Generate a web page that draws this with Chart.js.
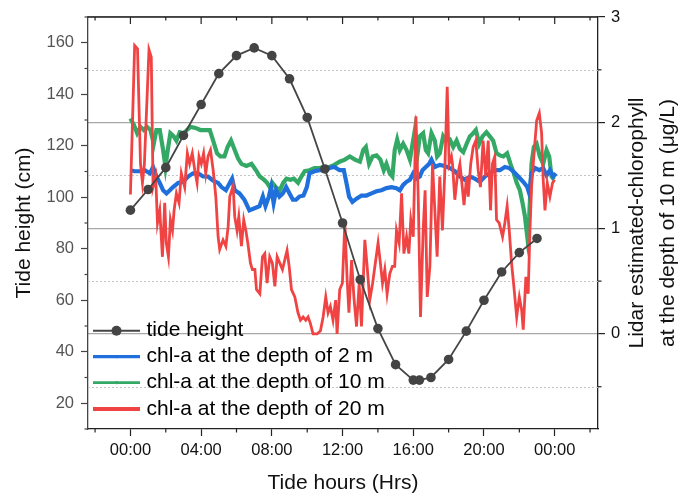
<!DOCTYPE html>
<html>
<head>
<meta charset="utf-8">
<title>Tide height and chl-a</title>
<script src="https://cdn.jsdelivr.net/npm/chart.js@4.4.1/dist/chart.umd.min.js"></script>
<style>
  html, body { margin: 0; padding: 0; background: #fff; }
  #wrap { width: 681px; height: 494px; }
</style>
</head>
<body>
<div id="wrap"><canvas id="tideChart" width="681" height="494"></canvas></div>
<script>
// --- Data (hours from 00:00, heights in cm, chl-a in ug/L) ---
const tideHours = [0, 1, 2, 3, 4, 5, 6, 7, 8, 9, 10, 11, 12, 13, 14, 15, 16, 16.35, 17, 18, 19, 20, 21, 22, 23];
const tideHeight = [95, 103, 111.5, 124, 136, 148, 155, 158, 155, 146, 131, 111, 90, 68, 49, 35, 29, 29, 30, 37, 48, 60, 71, 78.5, 84];

const chl2Hours = [
  0, 0.24, 0.53, 0.81, 1.10, 1.28, 1.47, 1.66, 1.85, 2.04,
  2.23, 2.41, 2.70, 2.98, 3.26, 3.54, 3.83, 4.11, 4.39, 4.68,
  4.96, 5.15, 5.40, 5.62, 5.75, 5.90, 6.17, 6.45, 6.73, 7.02,
  7.30, 7.49, 7.64, 7.83, 7.96, 8.10, 8.24, 8.43, 8.62, 8.81,
  9.00, 9.19, 9.37, 9.56, 9.79, 9.98, 10.13, 10.41, 10.70, 10.98,
  11.26, 11.54, 11.83, 12.07, 12.22, 12.37, 12.56, 12.79, 13.07, 13.35,
  13.64, 13.92, 14.20, 14.48, 14.77, 15.05, 15.24, 15.43, 15.62, 15.81,
  16.00, 16.18, 16.37, 16.52, 16.71, 16.90, 17.03, 17.22, 17.50, 17.78,
  18.07, 18.35, 18.64, 18.92, 19.20, 19.48, 19.77, 20.05, 20.33, 20.62,
  20.90, 21.18, 21.43, 21.65, 21.94, 22.22, 22.45, 22.56, 22.69, 22.88,
  23.13, 23.35, 23.54, 23.73, 23.92, 24.07
];
const chl2Values = [
  1.55, 1.54, 1.54, 1.55, 1.52, 1.58, 1.49, 1.43, 1.36, 1.33,
  1.36, 1.39, 1.43, 1.44, 1.49, 1.52, 1.52, 1.49, 1.49, 1.45,
  1.43, 1.39, 1.36, 1.43, 1.47, 1.36, 1.33, 1.27, 1.17, 1.19,
  1.21, 1.30, 1.21, 1.30, 1.39, 1.24, 1.36, 1.30, 1.33, 1.39,
  1.33, 1.27, 1.27, 1.30, 1.31, 1.39, 1.52, 1.54, 1.55, 1.55,
  1.57, 1.58, 1.55, 1.55, 1.43, 1.30, 1.25, 1.28, 1.31, 1.31,
  1.33, 1.35, 1.36, 1.38, 1.39, 1.38, 1.36, 1.41, 1.44, 1.46,
  1.52, 1.47, 1.49, 1.55, 1.58, 1.61, 1.65, 1.58, 1.60, 1.59,
  1.57, 1.54, 1.49, 1.46, 1.49, 1.47, 1.44, 1.49, 1.52, 1.55,
  1.55, 1.58, 1.57, 1.54, 1.49, 1.44, 1.39, 1.33, 1.52, 1.57,
  1.55, 1.57, 1.50, 1.55, 1.49, 1.52
];

const chl10Hours = [
  0, 0.19, 0.38, 0.57, 0.75, 0.94, 1.13, 1.32, 1.47, 1.66,
  1.85, 1.98, 2.11, 2.26, 2.45, 2.60, 2.79, 3.01, 3.20, 3.39,
  3.68, 3.96, 4.24, 4.49, 4.68, 4.90, 5.09, 5.32, 5.50, 5.69,
  5.90, 6.09, 6.28, 6.56, 6.85, 7.10, 7.32, 7.55, 7.73, 7.88,
  8.03, 8.22, 8.45, 8.64, 8.83, 9.05, 9.24, 9.48, 9.67, 9.86,
  10.13, 10.41, 10.70, 10.98, 11.26, 11.54, 11.83, 12.13, 12.41, 12.70,
  12.98, 13.17, 13.32, 13.50, 13.70, 13.92, 14.14, 14.33, 14.48, 14.67,
  14.82, 14.95, 15.09, 15.24, 15.43, 15.62, 15.81, 15.96, 16.09, 16.22,
  16.37, 16.56, 16.71, 16.84, 17.03, 17.22, 17.35, 17.50, 17.69, 17.84,
  18.07, 18.26, 18.45, 18.64, 18.83, 19.02, 19.20, 19.39, 19.54, 19.73,
  19.92, 20.14, 20.33, 20.52, 20.71, 20.90, 21.09, 21.31, 21.50, 21.69,
  21.85, 22.03, 22.18, 22.32, 22.45, 22.56, 22.69, 22.82, 22.98, 23.16,
  23.35, 23.54, 23.69, 23.82, 23.96
];
const chl10Values = [
  2.04, 1.98, 1.90, 1.96, 1.93, 1.96, 1.93, 1.80, 1.93, 1.93,
  1.74, 1.58, 1.74, 1.90, 1.87, 1.83, 1.91, 1.90, 1.93, 1.96,
  1.95, 1.93, 1.93, 1.93, 1.83, 1.71, 1.68, 1.68, 1.77, 1.83,
  1.74, 1.66, 1.61, 1.59, 1.61, 1.55, 1.49, 1.46, 1.43, 1.39,
  1.43, 1.39, 1.36, 1.43, 1.47, 1.46, 1.47, 1.43, 1.49, 1.54,
  1.55, 1.57, 1.57, 1.58, 1.58, 1.60, 1.63, 1.65, 1.68, 1.65,
  1.63, 1.74, 1.77, 1.61, 1.68, 1.69, 1.65, 1.55, 1.61, 1.52,
  1.49, 1.74, 1.84, 1.74, 1.80, 1.74, 1.65, 1.80, 1.93, 1.68,
  1.87, 1.90, 1.74, 1.71, 1.90, 1.83, 1.68, 1.71, 1.87, 1.83,
  1.84, 1.77, 1.83, 1.75, 1.72, 1.80, 1.87, 1.90, 1.93, 1.80,
  1.87, 1.91, 1.87, 1.83, 1.71, 1.69, 1.68, 1.71, 1.61, 1.52,
  1.43, 1.36, 1.24, 1.11, 0.92, 1.11, 1.61, 1.77, 1.80, 1.68,
  1.61, 1.74, 1.68, 1.49, 1.46
];

const chl20Hours = [
  0.00, 0.24, 0.40, 0.57, 0.68, 0.79, 1.05, 1.18, 1.28, 1.43,
  1.53, 1.66, 1.81, 1.94, 2.03, 2.15, 2.26, 2.38, 2.47, 2.60,
  2.75, 2.88, 3.07, 3.22, 3.35, 3.50, 3.64, 3.77, 3.88, 4.01,
  4.14, 4.26, 4.39, 4.53, 4.68, 4.83, 4.96, 5.05, 5.24, 5.40,
  5.53, 5.62, 5.81, 5.90, 6.03, 6.13, 6.28, 6.41, 6.53, 6.64,
  6.79, 6.90, 7.04, 7.13, 7.32, 7.47, 7.60, 7.73, 7.88, 8.03,
  8.17, 8.30, 8.45, 8.60, 8.73, 8.86, 8.98, 9.11, 9.30, 9.48,
  9.62, 9.77, 9.92, 10.05, 10.18, 10.33, 10.56, 10.75, 10.90, 11.05,
  11.18, 11.31, 11.46, 11.61, 11.69, 11.84, 11.99, 12.13, 12.26, 12.36,
  12.51, 12.64, 12.79, 12.94, 13.07, 13.26, 13.39, 13.54, 13.70, 13.83,
  14.01, 14.14, 14.26, 14.39, 14.52, 14.67, 14.82, 14.95, 15.05, 15.20,
  15.34, 15.47, 15.62, 15.75, 15.86, 16.00, 16.15, 16.28, 16.41, 16.56,
  16.67, 16.79, 16.94, 17.09, 17.22, 17.35, 17.50, 17.65, 17.78, 17.92,
  18.03, 18.16, 18.22, 18.35, 18.49, 18.64, 18.79, 18.87, 19.02, 19.11,
  19.25, 19.39, 19.54, 19.67, 19.80, 19.95, 20.10, 20.24, 20.37, 20.48,
  20.61, 20.71, 20.86, 21.05, 21.18, 21.31, 21.43, 21.56, 21.69, 21.85,
  22.00, 22.13, 22.22, 22.37, 22.50, 22.60, 22.69, 22.82, 22.98, 23.13,
  23.26, 23.35, 23.45, 23.58, 23.73, 23.88, 24.00
];
const chl20Values = [
  1.32, 2.73, 2.70, 1.61, 1.43, 1.61, 2.69, 2.62, 1.39, 1.49,
  1.05, 1.17, 0.73, 1.24, 0.86, 0.73, 1.08, 0.98, 1.17, 1.33,
  1.24, 1.52, 1.39, 1.71, 1.61, 1.71, 1.55, 1.43, 1.68, 1.61,
  1.71, 1.52, 1.68, 1.74, 1.55, 1.30, 0.92, 0.80, 0.89, 0.83,
  1.02, 1.30, 1.40, 1.11, 0.98, 1.11, 0.83, 1.08, 0.98, 0.86,
  0.67, 0.61, 0.61, 0.42, 0.38, 0.73, 0.76, 0.48, 0.73, 0.67,
  0.45, 0.73, 0.67, 0.61, 0.70, 0.79, 0.64, 0.42, 0.35, 0.20,
  0.13, 0.16, 0.13, 0.16, 0.10, 0.00, 0.00, 0.03, 0.16, 0.35,
  0.20, 0.26, 0.13, 0.32, 0.00, 0.42, 0.48, 1.05, 0.51, 0.20,
  0.70, 0.35, 0.07, 0.48, 0.07, 0.89, 0.64, 0.32, 0.48, 0.64,
  0.86, 0.67, 0.48, 0.61, 0.38, 0.57, 0.64, 0.64, 0.98, 0.86,
  1.33, 0.76, 0.92, 0.76, 1.08, 0.92, 2.06, 1.30, 0.16, 0.98,
  1.36, 0.35, 0.64, 1.61, 1.17, 0.73, 1.49, 0.98, 1.52, 2.34,
  1.61, 1.68, 1.61, 1.27, 1.49, 1.61, 1.36, 1.22, 1.49, 1.30,
  1.61, 1.77, 1.83, 1.55, 1.39, 1.83, 1.49, 1.83, 1.17, 1.61,
  1.68, 1.08, 1.05, 0.92, 1.05, 1.21, 0.98, 0.67, 0.45, 0.16,
  0.35, 0.23, 0.04, 0.54, 0.38, 0.98, 1.39, 1.68, 2.02, 2.09,
  1.90, 1.46, 1.17, 1.43, 1.30, 1.43, 1.46
];

// --- Axis ticks ---
const xTickValues = [0, 4, 8, 12, 16, 20, 24];
const xTickLabels = ['00:00', '04:00', '08:00', '12:00', '16:00', '20:00', '00:00'];
const xMinorTicks = [-2, 2, 6, 10, 14, 18, 22, 26];
const leftTickValues = [20, 40, 60, 80, 100, 120, 140, 160];
const leftMinorTicks = [10, 30, 50, 70, 90, 110, 130, 150, 170];
const rightTickValues = [0, 1, 2, 3];
const rightMinorTicks = [-0.5, 0.5, 1.5, 2.5];

const legendLabels = ['tide height', 'chl-a at the depth of 2 m', 'chl-a at the depth of 10 m', 'chl-a at the depth of 20 m'];
const rightTitle = ['Lidar estimated-chlorophyll', 'at the depth of 10 m (\u03bcg/L)'];

const COLORS = {
  tide: '#454545',
  chl2: '#1f6fdc',
  chl10: '#34a865',
  chl20: '#f04444'
};

const FONT = '"Liberation Sans", Arial, Helvetica, sans-serif';
Chart.defaults.font.family = FONT;

function toPoints(xs, ys) {
  return xs.map((x, i) => ({ x: x, y: ys[i] }));
}

function useTicks(values) {
  return (scale) => {
    scale.ticks = values.map(v => ({ value: v }));
  };
}

// --- Frame, minor ticks, dotted grid, right title and legend ---
const chartDecor = {
  id: 'chartDecor',
  beforeDatasetsDraw(chart) {
    const { ctx, chartArea: a, scales } = chart;
    ctx.save();
    ctx.strokeStyle = '#c4c4c4';
    ctx.lineWidth = 1;
    ctx.setLineDash([2, 2]);
    rightMinorTicks.forEach(v => {
      const y = Math.round(scales.y1.getPixelForValue(v)) + 0.5;
      ctx.beginPath();
      ctx.moveTo(a.left, y);
      ctx.lineTo(a.right, y);
      ctx.stroke();
    });
    ctx.restore();
  },
  afterDraw(chart) {
    const { ctx, chartArea: a, scales } = chart;
    ctx.save();

    // top frame line
    ctx.strokeStyle = '#222';
    ctx.lineWidth = 1.3;
    ctx.beginPath();
    ctx.moveTo(a.left, a.top);
    ctx.lineTo(a.right, a.top);
    ctx.stroke();

    ctx.lineWidth = 1.2;
    // top ticks point into the plot
    xTickValues.forEach(v => {
      const x = scales.x.getPixelForValue(v);
      ctx.beginPath(); ctx.moveTo(x, a.top); ctx.lineTo(x, a.top + 7); ctx.stroke();
    });
    xMinorTicks.forEach(v => {
      const x = scales.x.getPixelForValue(v);
      ctx.beginPath(); ctx.moveTo(x, a.top); ctx.lineTo(x, a.top + 3.5); ctx.stroke();
      ctx.beginPath(); ctx.moveTo(x, a.bottom); ctx.lineTo(x, a.bottom + 3.5); ctx.stroke();
    });
    ctx.strokeStyle = '#444';
    leftMinorTicks.forEach(v => {
      const y = scales.y.getPixelForValue(v);
      ctx.beginPath(); ctx.moveTo(a.left, y); ctx.lineTo(a.left - 3.5, y); ctx.stroke();
    });
    ctx.strokeStyle = '#222';
    rightMinorTicks.forEach(v => {
      const y = scales.y1.getPixelForValue(v);
      ctx.beginPath(); ctx.moveTo(a.right, y); ctx.lineTo(a.right + 3.5, y); ctx.stroke();
    });

    // right axis title, two lines reading upward
    ctx.fillStyle = '#111';
    ctx.font = '21px ' + FONT;
    ctx.textAlign = 'center';
    ctx.textBaseline = 'middle';
    const midY = (a.top + a.bottom) / 2;
    [a.right + 39, a.right + 70].forEach((x, i) => {
      ctx.save();
      ctx.translate(x, midY);
      ctx.rotate(-Math.PI / 2);
      ctx.fillText(rightTitle[i], 0, 0);
      ctx.restore();
    });

    // legend inside the plot, bottom left
    const rows = [a.bottom - 98.3, a.bottom - 72.3, a.bottom - 46.3, a.bottom - 20];
    const x0 = a.left + 5;
    const x1 = a.left + 52;
    const styles = [
      { color: COLORS.tide, width: 2, dot: 5 },
      { color: COLORS.chl2, width: 3.2, dot: 1.6 },
      { color: COLORS.chl10, width: 2.8, dot: 1.6 },
      { color: COLORS.chl20, width: 4, dot: 0 }
    ];
    ctx.textAlign = 'left';
    rows.forEach((y, i) => {
      const s = styles[i];
      ctx.strokeStyle = s.color;
      ctx.lineWidth = s.width;
      ctx.beginPath();
      ctx.moveTo(x0, y);
      ctx.lineTo(x1, y);
      ctx.stroke();
      if (s.dot) {
        ctx.fillStyle = i === 0 ? '#444' : s.color;
        ctx.beginPath();
        ctx.arc((x0 + x1) / 2, y, s.dot, 0, Math.PI * 2);
        ctx.fill();
      }
      ctx.fillStyle = '#000';
      ctx.fillText(legendLabels[i], a.left + 58.5, y);
    });

    ctx.restore();
  }
};

// --- Chart ---
const ctx = document.getElementById('tideChart').getContext('2d');
const tideChart = new Chart(ctx, {
  type: 'line',
  data: {
    datasets: [
      {
        label: legendLabels[0],
        data: toPoints(tideHours, tideHeight),
        yAxisID: 'y',
        borderColor: COLORS.tide,
        borderWidth: 1.8,
        pointRadius: 4.8,
        pointBackgroundColor: '#444',
        pointBorderWidth: 0,
        tension: 0
      },
      {
        label: legendLabels[3],
        data: toPoints(chl20Hours, chl20Values),
        yAxisID: 'y1',
        borderColor: COLORS.chl20,
        borderWidth: 2.8,
        pointRadius: 0,
        tension: 0
      },
      {
        label: legendLabels[1],
        data: toPoints(chl2Hours, chl2Values),
        yAxisID: 'y1',
        borderColor: COLORS.chl2,
        borderWidth: 4.2,
        pointRadius: 0,
        tension: 0
      },
      {
        label: legendLabels[2],
        data: toPoints(chl10Hours, chl10Values),
        yAxisID: 'y1',
        borderColor: COLORS.chl10,
        borderWidth: 4.2,
        pointRadius: 0,
        tension: 0
      }
    ]
  },
  options: {
    responsive: false,
    animation: false,
    layout: { padding: { top: 17, left: 0, right: 0, bottom: 0 } },
    plugins: {
      legend: { display: false },
      tooltip: { enabled: false }
    },
    scales: {
      x: {
        type: 'linear',
        position: 'bottom',
        min: -2.4,
        max: 26.45,
        afterBuildTicks: useTicks(xTickValues),
        afterFit: (scale) => { scale.height = 65; },
        ticks: {
          autoSkip: false,
          maxRotation: 0,
          padding: 5,
          color: '#111',
          font: { size: 16.5 },
          callback: (value, index) => xTickLabels[index]
        },
        grid: { drawOnChartArea: false, tickLength: 7, tickColor: '#222', tickWidth: 1.2 },
        border: { color: '#222', width: 1.3 },
        title: {
          display: true,
          text: 'Tide hours (Hrs)',
          color: '#111',
          font: { size: 21, lineHeight: 1 },
          padding: { top: 0, bottom: 0 }
        }
      },
      y: {
        type: 'linear',
        position: 'left',
        min: 10,
        max: 170,
        afterBuildTicks: useTicks(leftTickValues),
        afterFit: (scale) => { scale.width = 88; },
        ticks: { padding: 7, color: '#555', font: { size: 16.5 } },
        grid: { drawOnChartArea: false, tickLength: 7, tickColor: '#444', tickWidth: 1.2 },
        border: { color: '#444', width: 1.3 },
        title: {
          display: true,
          text: 'Tide height (cm)',
          color: '#111',
          font: { size: 21 },
          padding: { top: 12, bottom: 0 }
        }
      },
      y1: {
        type: 'linear',
        position: 'right',
        min: -0.9,
        max: 3,
        afterBuildTicks: useTicks(rightTickValues),
        afterFit: (scale) => { scale.width = 83; },
        ticks: { padding: 6, color: '#111', font: { size: 16.5 } },
        grid: { drawOnChartArea: true, color: '#a8a8a8', lineWidth: 1.2, tickLength: 7, tickColor: '#222', tickWidth: 1.2 },
        border: { color: '#222', width: 1.3 }
      }
    }
  },
  plugins: [chartDecor]
});
</script>
</body>
</html>
